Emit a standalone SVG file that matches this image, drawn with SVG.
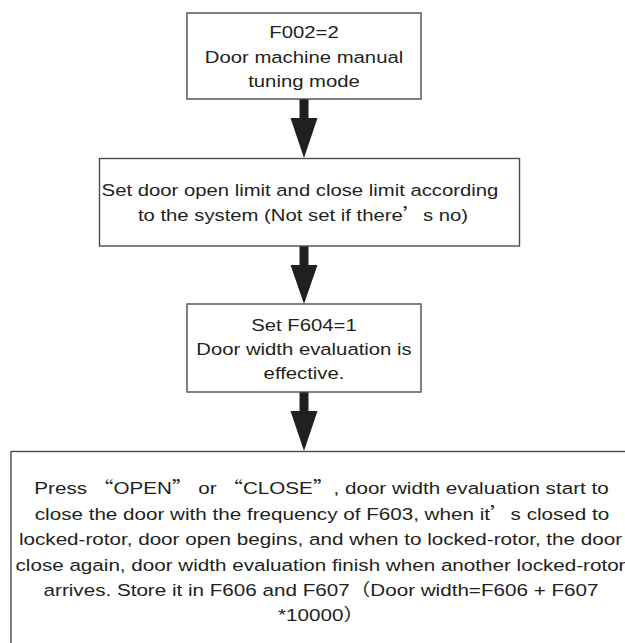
<svg xmlns="http://www.w3.org/2000/svg" width="625" height="643" viewBox="0 0 625 643">
<style>
.box{fill:#ffffff;stroke:#4d4d4d;stroke-width:1.4}
.t{font-family:"Liberation Sans","Noto Sans CJK SC",Arial,sans-serif;font-size:17.2px;fill:#231f20;text-anchor:middle}
.cjk{font-family:"Noto Sans CJK SC",sans-serif}
.arrow{fill:#231f20;stroke:none}
</style>
<rect width="625" height="643" fill="#ffffff"/>
<g id="connectors">
<path class="arrow" d="M299.5,99 H308.5 V118 H317.5 L304,158 L290.5,118 H299.5 Z"/>
<path class="arrow" d="M299.5,246 H308.5 V265 H317.5 L304,304 L290.5,265 H299.5 Z"/>
<path class="arrow" d="M299.5,392 H308.5 V411 H317.5 L304,451 L290.5,411 H299.5 Z"/>
</g>
<g id="node1">
<rect class="box" x="187" y="13" width="234" height="86"/>
<text class="t" transform="translate(304,37.7) scale(1.18,1)">F002=2</text>
<text class="t" transform="translate(304,62.5) scale(1.18,1)">Door machine manual</text>
<text class="t" transform="translate(304,86.5) scale(1.18,1)">tuning mode</text>
</g>
<g id="node2">
<rect class="box" x="99.5" y="158.5" width="420" height="87.5"/>
<text class="t" transform="translate(300,195.5) scale(1.18,1)">Set door open limit and close limit according</text>
<text class="t" transform="translate(303,220.8) scale(1.18,1)">to the system (Not set if there<tspan class="cjk">’</tspan>s no)</text>
</g>
<g id="node3">
<rect class="box" x="187" y="304" width="234" height="88"/>
<text class="t" transform="translate(304,330.7) scale(1.18,1)">Set F604=1</text>
<text class="t" transform="translate(304,355) scale(1.18,1)">Door width evaluation is</text>
<text class="t" transform="translate(304,378.5) scale(1.18,1)">effective.</text>
</g>
<g id="node4">
<rect class="box" x="11" y="451.5" width="624" height="205"/>
<text class="t" transform="translate(321.5,494.3) scale(1.2,1)">Press <tspan class="cjk">“</tspan>OPEN<tspan class="cjk">”</tspan> or <tspan class="cjk">“</tspan>CLOSE<tspan class="cjk">”</tspan>, door width evaluation start to</text>
<text class="t" transform="translate(322,519.8) scale(1.2,1)">close the door with the frequency of F603, when it<tspan class="cjk">’</tspan>s closed to</text>
<text class="t" transform="translate(320.5,545.2) scale(1.2,1)">locked-rotor, door open begins, and when to locked-rotor, the door</text>
<text class="t" transform="translate(320.5,570.5) scale(1.2,1)">close again, door width evaluation finish when another locked-rotor</text>
<text class="t" transform="translate(321,595.8) scale(1.2,1)">arrives. Store it in F606 and F607（Door width=F606 + F607</text>
<text class="t" transform="translate(321,621.2) scale(1.2,1)">*10000）</text>
</g>
</svg>
